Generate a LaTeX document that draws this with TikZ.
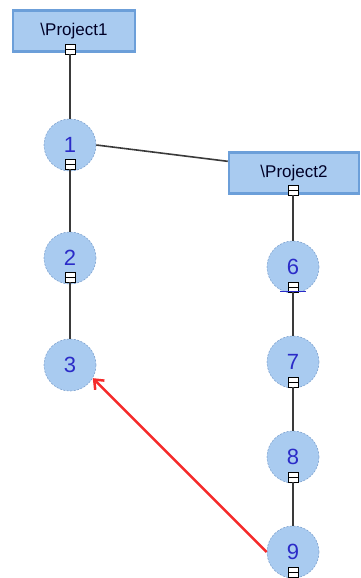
\documentclass[tikz,border=0pt]{standalone}
\usepackage{fontspec}
\setmainfont{Liberation Sans}
\usetikzlibrary{arrows.meta}

\definecolor{nodefill}{HTML}{A9CBF0}
\definecolor{nodeedge}{HTML}{7FA3CF}
\definecolor{boxedge}{HTML}{6C9FD9}
\definecolor{digitblue}{HTML}{2B2BC8}
\definecolor{linkgray}{HTML}{3A3A3A}
\definecolor{refred}{HTML}{F52A2A}

\tikzset{
  project/.style={draw=boxedge, line width=2.5pt, fill=nodefill, inner sep=0pt,
    minimum height=41pt, font=\fontsize{17}{17}\selectfont, text=black!85!blue},
  task/.style={circle, draw=nodeedge, dash pattern=on 2pt off 1.5pt, line width=0.6pt,
    fill=nodefill, minimum size=52pt, inner sep=0pt,
    font=\fontsize{22}{22}\selectfont, text=digitblue},
  collapsebox/.style={draw=black, fill=white, line width=0.9pt, inner sep=0pt,
    minimum width=10pt, minimum height=10pt,
    path picture={\draw[line width=0.9pt] (path picture bounding box.west) -- (path picture bounding box.east);}},
  link/.style={draw=linkgray, line width=1.6pt},
  ref/.style={draw=refred, line width=2.5pt, -{Straight Barb[length=8pt,width=13pt]}}
}

\begin{document}
\begin{tikzpicture}[x=1pt, y=-1pt]

 \useasboundingbox (0,0) rectangle (360,578);

 %%%%%%%%%% Projets %%%%%%%%%%
 \node[project, minimum width=122pt] (p1) at (74,31) {\textbackslash Project1};
 \node[project, minimum width=130pt] (p2) at (294,173) {\textbackslash Project2};

 %%%%%%%%%% Taches %%%%%%%%%%
 \node[task] (n1) at (70,145) {1};
 \node[task] (n2) at (70,258) {2};
 \node[task] (n3) at (70,365) {3};
 \node[task] (n6) at (293,267) {6};
 \node[task] (n7) at (293,362) {7};
 \node[task] (n8) at (293,457) {8};
 \node[task] (n9) at (293,552) {9};

 %%%%%%%%%% Boutons replier %%%%%%%%%%
 \node[collapsebox] (c0) at (70,49) {};
 \node[collapsebox] (c1) at (70,164) {};
 \node[collapsebox] (c2) at (70,277) {};
 \node[collapsebox] (c5) at (293,190) {};
 \node[collapsebox] (c6) at (293,287) {};
 \node[collapsebox] (c7) at (293,382) {};
 \node[collapsebox] (c8) at (293,477) {};
 \node[collapsebox] (c9) at (293,572) {};

 % Liens
 \draw[link] (c0) -- (n1);
 \draw[link] (c1) -- (n2);
 \draw[link] (c2) -- (n3);
 \draw[link] (n1.east) -- (p2.170);
 \draw[link] (c5) -- (n6);
 \draw[link] (c6) -- (n7);
 \draw[link] (c7) -- (n8);
 \draw[link] (c8) -- (n9);

 \draw[digitblue, line width=1pt] (280,291) -- (306,291);

 %%%%%%%%%%% Reference %%%%%%%%%%%
 \draw[ref] (n9.west) -- (n3.-30);

\end{tikzpicture}
\end{document}
